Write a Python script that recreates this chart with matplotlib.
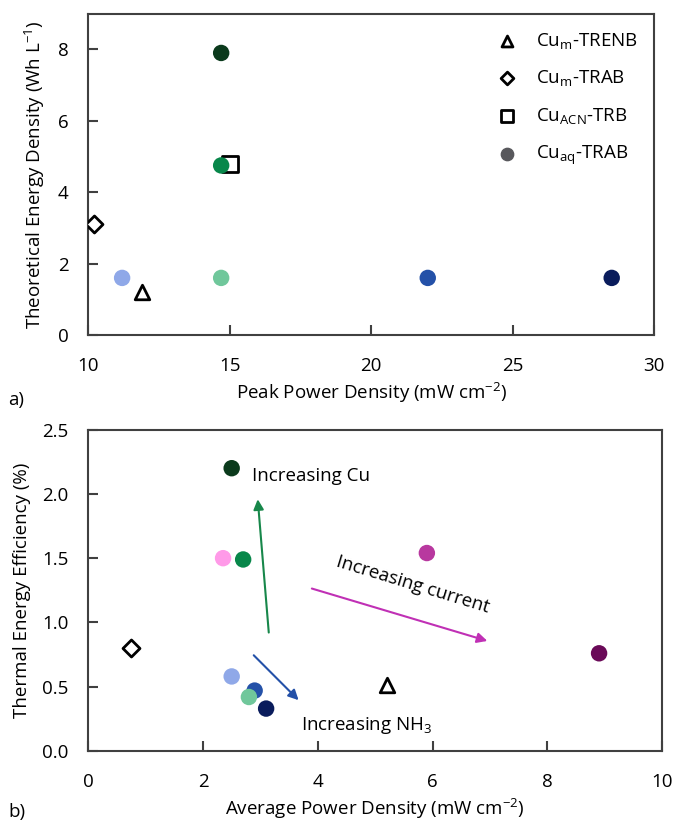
import matplotlib
matplotlib.use("Agg")
import matplotlib.pyplot as plt

plt.rcParams['font.family'] = ['Open Sans', 'DejaVu Sans']
plt.rcParams['mathtext.default'] = 'regular'

# panel a) Cu_aq-TRAB points
a_x = [14.7, 14.7, 11.2, 14.7, 22.0, 28.5]
a_y = [7.9, 4.75, 1.6, 1.6, 1.6, 1.6]
a_col = ['#0b3a1c', '#08874a', '#8fa8e8', '#70c79b', '#2451a8', '#0a1c5c']
# panel a) other chemistries
a_tri = (11.9, 1.2)
a_dia = (10.2, 3.1)
a_sq = (15.0, 4.8)

# panel b) Cu_aq-TRAB points
b_x = [2.5, 2.35, 2.7, 5.9, 8.9, 2.5, 2.9, 2.8, 3.1]
b_y = [2.2, 1.5, 1.49, 1.54, 0.76, 0.58, 0.47, 0.42, 0.33]
b_col = ['#0b3a1c', '#ff9ae8', '#08874a', '#b8389f', '#6a0a58',
         '#8fa8e8', '#2451a8', '#70c79b', '#0a1c5c']
b_tri = (5.2, 0.51)
b_dia = (0.75, 0.8)

fig = plt.figure(figsize=(6.73, 8.24), dpi=100)
ax1 = fig.add_axes([0.131, 0.5934, 0.841, 0.39])
ax2 = fig.add_axes([0.131, 0.0886, 0.853, 0.39])

spine_c = '#404040'
fs = 13.5
ms = 140
open_kw = dict(facecolor='white', edgecolor='black', linewidths=2, zorder=3)

def style(ax):
    for s in ax.spines.values():
        s.set_color(spine_c)
        s.set_linewidth(1.5)
    ax.tick_params(direction='in', length=7, width=1.5, color=spine_c,
                   labelsize=fs)
    ax.tick_params(axis='x', pad=16)
    ax.tick_params(axis='y', pad=14)

# a)
ax1.scatter(*a_tri, marker='^', s=110, label=r'Cu$_{m}$-TRENB', **open_kw)
ax1.scatter(*a_dia, marker='D', s=75, label=r'Cu$_{m}$-TRAB', **open_kw)
ax1.scatter(*a_sq, marker='s', s=120, label=r'Cu$_{ACN}$-TRB', **open_kw)
ax1.scatter(a_x, a_y, c=a_col, s=ms, zorder=4, linewidths=0)
ax1.scatter([], [], c='#58585c', s=ms, label=r'Cu$_{aq}$-TRAB')
ax1.set_xlim(10, 30)
ax1.set_ylim(0, 9)
ax1.set_xticks([10, 15, 20, 25, 30])
ax1.set_yticks([0, 2, 4, 6, 8])
ax1.set_xlabel(r'Peak Power Density (mW cm$^{-2}$)', fontsize=fs, labelpad=4)
ax1.set_ylabel(r'Theoretical Energy Density (Wh L$^{-1}$)', fontsize=fs,
               labelpad=8)
style(ax1)
ax1.legend(loc='upper right', frameon=False, fontsize=fs, labelspacing=0.95,
           handletextpad=0.5, borderaxespad=0.5, scatterpoints=1,
           markerscale=0.75)
fig.text(0.012, 0.508, 'a)', fontsize=fs)

# b)
ax2.scatter(*b_tri, marker='^', s=110, **open_kw)
ax2.scatter(*b_dia, marker='D', s=75, **open_kw)
ax2.scatter(b_x, b_y, c=b_col, s=ms, zorder=4, linewidths=0)
ax2.annotate('', xy=(2.95, 1.98), xytext=(3.15, 0.9),
             arrowprops=dict(arrowstyle='-|>', color='#17874a', lw=1.5,
                             mutation_scale=15))
ax2.annotate('', xy=(7.0, 0.85), xytext=(3.85, 1.27),
             arrowprops=dict(arrowstyle='-|>', color='#c030b5', lw=1.5,
                             mutation_scale=15))
ax2.annotate('', xy=(3.7, 0.38), xytext=(2.85, 0.76),
             arrowprops=dict(arrowstyle='-|>', color='#2451a8', lw=1.5,
                             mutation_scale=15))
ax2.text(2.85, 2.14, 'Increasing Cu', fontsize=fs, va='center')
ax2.text(5.65, 1.29, 'Increasing current', fontsize=fs, va='center',
         ha='center', rotation=-17)
ax2.text(3.7, 0.2, r'Increasing NH$_3$', fontsize=fs, va='center')
ax2.set_xlim(0, 10)
ax2.set_ylim(0, 2.5)
ax2.set_xticks([0, 2, 4, 6, 8, 10])
ax2.set_yticks([0.0, 0.5, 1.0, 1.5, 2.0, 2.5])
ax2.set_yticklabels(['0.0', '0.5', '1.0', '1.5', '2.0', '2.5'])
ax2.set_xlabel(r'Average Power Density (mW cm$^{-2}$)', fontsize=fs,
               labelpad=4)
ax2.set_ylabel('Thermal Energy Efficiency (%)', fontsize=fs, labelpad=8)
style(ax2)
fig.text(0.012, 0.008, 'b)', fontsize=fs)

fig.savefig('out.png', dpi=100)
